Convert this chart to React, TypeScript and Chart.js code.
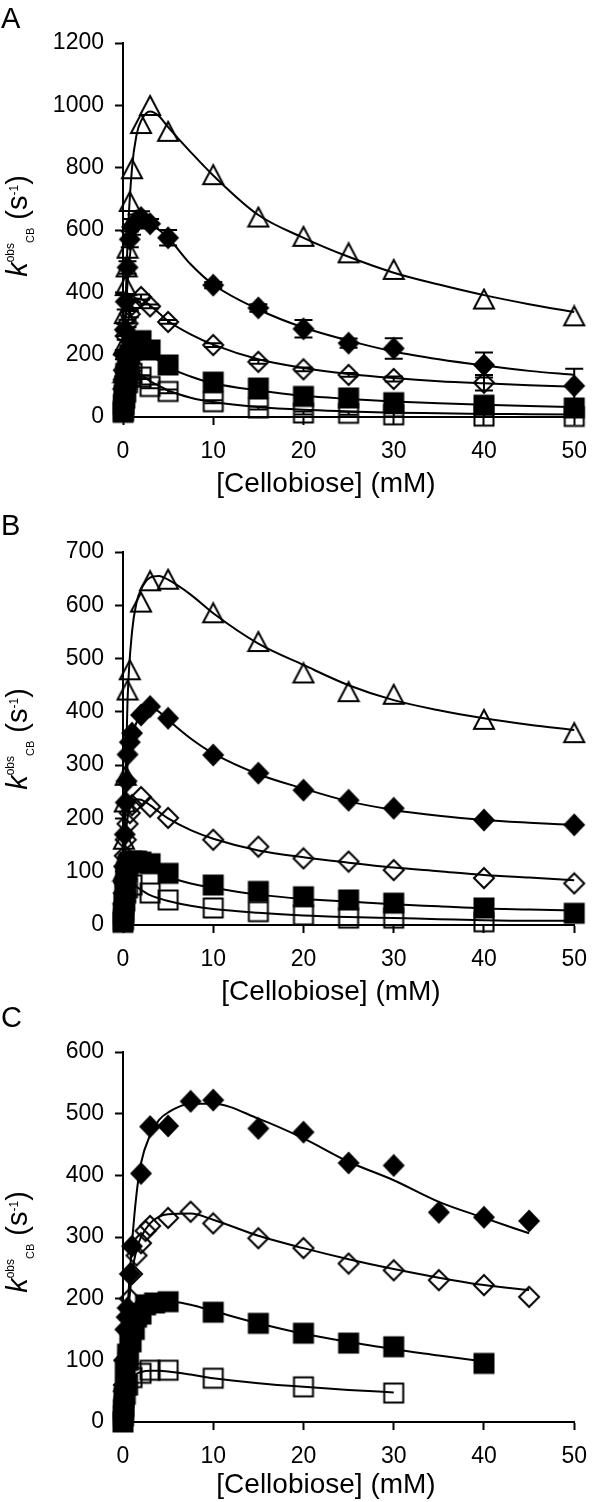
import React, { useEffect, useRef } from 'react';
import { Chart, registerables } from 'chart.js';
Chart.register(...registerables);

const FONT = '"Liberation Sans", Arial, sans-serif';
const X_TITLE = '[Cellobiose] (mM)';
const X_TICKS_MAX = 50;

// ---------- Panel A ----------
const aCurveX = [0, 0.25, 0.5, 1, 1.5, 2, 3, 4, 5, 7.5, 10, 15, 20, 25, 30, 35, 40, 45, 50];
const aTriangleX = [0.05, 0.1, 0.2, 0.3, 0.4, 0.5, 0.75, 1, 2, 3, 5, 10, 15, 20, 25, 30, 40, 50];
const aTriangleY = [140, 230, 330, 420, 480, 540, 690, 795, 940, 998, 915, 776, 640, 578, 525, 472, 377, 323];
const aTriangleFit = [0, 330, 560, 800, 905, 950, 980, 965, 930, 850, 775, 648, 575, 514, 463, 425, 391, 362, 337];
const aFilledDiamondX = [0.05, 0.1, 0.2, 0.3, 0.5, 0.75, 1, 1.5, 2, 3, 5, 10, 15, 20, 25, 30, 40, 50];
const aFilledDiamondY = [120, 200, 280, 370, 480, 570, 610, 630, 640, 620, 575, 423, 350, 283, 237, 220, 167, 100];
const aFilledDiamondErr = [10, 15, 20, 25, 20, 25, 25, 20, 20, 15, 25, 10, 12, 28, 15, 33, 40, 55];
const aFilledDiamondFit = [0, 280, 430, 570, 620, 635, 625, 600, 575, 490, 425, 345, 287, 245, 210, 185, 165, 148, 135];
const aOpenDiamondX = [0.05, 0.1, 0.2, 0.3, 0.5, 0.75, 1, 2, 3, 5, 10, 15, 20, 25, 30, 40];
const aOpenDiamondY = [90, 150, 200, 260, 300, 330, 360, 385, 355, 305, 231, 177, 153, 135, 122, 110];
const aOpenDiamondErr = [8, 10, 10, 12, 12, 10, 10, 8, 6, 6, 6, 6, 6, 6, 8, 25];
const aOpenDiamondFit = [0, 200, 290, 360, 380, 378, 358, 333, 308, 265, 232, 185, 157, 138, 125, 115, 108, 102, 97];
const aFilledSquareX = [0.02, 0.05, 0.1, 0.2, 0.3, 0.4, 0.5, 0.6, 0.75, 1, 1.5, 2, 3, 5, 10, 15, 20, 25, 30, 40, 50];
const aFilledSquareY = [15, 40, 70, 100, 140, 120, 170, 150, 200, 215, 230, 245, 215, 167, 112, 93, 66, 61, 46, 38, 29];
const aFilledSquareFit = [0, 120, 170, 215, 225, 220, 200, 180, 160, 130, 108, 85, 68, 58, 50, 44, 39, 35, 32];
const aOpenSquareX = [0.05, 0.1, 0.2, 0.3, 0.5, 0.75, 1, 2, 3, 5, 10, 15, 20, 25, 30, 40, 50];
const aOpenSquareY = [20, 40, 60, 80, 110, 130, 140, 128, 98, 82, 49, 29, 13, 12, 7, 3, 2];
const aOpenSquareErr = [15, 15, 12, 12, 10, 10, 8, 6, 6, 6, 5, 5, 5, 5, 5, 5, 5];
const aOpenSquareFit = [0, 90, 120, 145, 145, 135, 115, 100, 85, 62, 48, 32, 23, 18, 14, 12, 10, 9, 8];

// ---------- Panel B ----------
const bCurveX = [0, 0.25, 0.5, 1, 1.5, 2, 3, 4, 5, 7.5, 10, 15, 20, 25, 30, 35, 40, 45, 50];
const bTriangleX = [0.05, 0.1, 0.2, 0.3, 0.5, 0.75, 2, 3, 5, 10, 15, 20, 25, 30, 40, 50];
const bTriangleY = [100, 160, 230, 280, 440, 478, 605, 645, 648, 585, 531, 472, 437, 432, 385, 360];
const bTriangleFit = [0, 250, 420, 550, 605, 630, 652, 655, 648, 620, 585, 528, 488, 450, 422, 403, 388, 376, 366];
const bFilledDiamondX = [0.05, 0.1, 0.2, 0.3, 0.4, 0.5, 0.75, 1, 2, 3, 5, 10, 15, 20, 25, 30, 40, 50];
const bFilledDiamondY = [60, 110, 170, 230, 270, 320, 343, 360, 394, 410, 388, 319, 285, 253, 234, 219, 197, 188];
const bFilledDiamondFit = [0, 200, 300, 355, 380, 395, 408, 400, 385, 350, 322, 283, 256, 232, 216, 205, 197, 192, 188];
const bOpenDiamondX = [0.05, 0.1, 0.2, 0.3, 0.5, 0.75, 1, 2, 3, 5, 10, 15, 20, 25, 30, 40, 50];
const bOpenDiamondY = [40, 80, 130, 160, 190, 210, 225, 240, 222, 201, 160, 147, 125, 119, 103, 88, 78];
const bOpenDiamondFit = [0, 150, 200, 228, 236, 235, 225, 212, 200, 178, 162, 140, 127, 117, 108, 101, 94, 89, 84];
const bFilledSquareX = [0, 0.05, 0.1, 0.2, 0.3, 0.4, 0.5, 0.6, 0.75, 1, 1.5, 2, 3, 5, 10, 15, 20, 25, 30, 40, 50];
const bFilledSquareY = [5, 20, 40, 70, 90, 100, 110, 115, 118, 120, 120, 118, 115, 97, 75, 63, 53, 47, 41, 32, 22];
const bFilledSquareFit = [0, 90, 115, 123, 120, 115, 105, 97, 90, 78, 70, 57, 49, 44, 39, 35, 31, 29, 27];
const bOpenSquareX = [0.05, 0.1, 0.2, 0.3, 0.5, 1, 3, 5, 10, 15, 20, 25, 30, 40];
const bOpenSquareY = [10, 25, 45, 60, 70, 75, 60, 47, 32, 25, 19, 13, 13, 6];
const bOpenSquareFit = [0, 60, 75, 78, 72, 66, 56, 50, 45, 36, 30, 23, 18, 15, 13, 11, 9, 8, 8];

// ---------- Panel C ----------
const cCurveX = [0, 0.25, 0.5, 1, 1.5, 2, 3, 4, 5, 7.5, 10, 15, 20, 25, 30, 35, 40, 45];
const cFilledDiamondX = [0.05, 0.1, 0.25, 0.4, 0.5, 0.75, 1, 2, 3, 5, 7.5, 10, 15, 20, 25, 30, 35, 40, 45];
const cFilledDiamondY = [50, 100, 150, 170, 185, 240, 285, 403, 479, 480, 520, 522, 476, 470, 420, 416, 340, 332, 326];
const cFilledDiamondFit = [0, 100, 180, 290, 370, 420, 465, 490, 502, 516, 516, 492, 460, 422, 392, 357, 331, 306];
const cOpenDiamondX = [0.1, 0.25, 0.5, 0.75, 1, 1.5, 2, 2.5, 3, 5, 7.5, 10, 15, 20, 25, 30, 35, 40, 45];
const cOpenDiamondY = [60, 100, 150, 200, 240, 270, 290, 310, 318, 331, 341, 322, 298, 282, 257, 246, 230, 222, 203];
const cOpenDiamondFit = [0, 90, 160, 240, 280, 300, 322, 333, 337, 338, 328, 302, 282, 264, 248, 234, 222, 214];
const cSquareCurveX = [0, 0.25, 0.5, 1, 1.5, 2, 3, 4, 5, 7.5, 10, 15, 20, 25, 30, 35, 40];
const cFilledSquareX = [0, 0.05, 0.1, 0.25, 0.4, 0.5, 0.6, 0.75, 0.9, 1, 1.25, 1.5, 2, 2.5, 3.5, 5, 10, 15, 20, 25, 30, 40];
const cFilledSquareY = [0, 20, 40, 80, 60, 110, 100, 140, 130, 160, 150, 170, 175, 190, 193, 195, 178, 160, 144, 128, 122, 95];
const cFilledSquareFit = [0, 70, 120, 160, 178, 185, 192, 195, 196, 190, 180, 160, 143, 130, 118, 108, 98];
const cOpenSquareCurveX = [0, 0.25, 0.5, 1, 1.5, 2, 3, 4, 5, 7.5, 10, 15, 20, 25, 30];
const cOpenSquareX = [0.05, 0.1, 0.25, 0.5, 1, 2, 3, 5, 10, 20, 30];
const cOpenSquareY = [10, 25, 45, 60, 72, 79, 84, 84, 71, 57, 47];
const cOpenSquareFit = [0, 40, 58, 72, 78, 81, 83, 83, 82, 77, 71, 63, 57, 52, 48];

type MarkerKind = 'openTriangle' | 'filledDiamond' | 'openDiamond' | 'filledSquare' | 'openSquare';
type Series = { kind: MarkerKind; x: number[]; y: number[]; err?: number[] };
type Curve = { x: number[]; y: number[] };
type PanelCfg = {
  letter: string; top: number; height: number;
  area: { top: number; bottom: number; left: number; right: number };
  yMax: number; yStep: number;
  letterBase: number; xTitleX: number; xTitleBase: number; yTitleY: number; yTitleBase: number;
  series: Series[]; curves: Curve[];
};

const PANELS: PanelCfg[] = [
  {
    letter: 'A', top: 0, height: 500, area: { top: 43, bottom: 417, left: 123, right: 575 },
    yMax: 1200, yStep: 200, letterBase: 28, xTitleX: 326, xTitleBase: 492, yTitleY: 226, yTitleBase: 27,
    series: [
      { kind: 'openTriangle', x: aTriangleX, y: aTriangleY },
      { kind: 'filledDiamond', x: aFilledDiamondX, y: aFilledDiamondY, err: aFilledDiamondErr },
      { kind: 'openDiamond', x: aOpenDiamondX, y: aOpenDiamondY, err: aOpenDiamondErr },
      { kind: 'filledSquare', x: aFilledSquareX, y: aFilledSquareY },
      { kind: 'openSquare', x: aOpenSquareX, y: aOpenSquareY, err: aOpenSquareErr },
    ],
    curves: [
      { x: aCurveX, y: aTriangleFit }, { x: aCurveX, y: aFilledDiamondFit }, { x: aCurveX, y: aOpenDiamondFit },
      { x: aCurveX, y: aFilledSquareFit }, { x: aCurveX, y: aOpenSquareFit },
    ],
  },
  {
    letter: 'B', top: 500, height: 510, area: { top: 52, bottom: 425, left: 123, right: 588 },
    yMax: 700, yStep: 100, letterBase: 35, xTitleX: 331, xTitleBase: 500, yTitleY: 239, yTitleBase: 27,
    series: [
      { kind: 'openTriangle', x: bTriangleX, y: bTriangleY },
      { kind: 'filledDiamond', x: bFilledDiamondX, y: bFilledDiamondY },
      { kind: 'openDiamond', x: bOpenDiamondX, y: bOpenDiamondY },
      { kind: 'filledSquare', x: bFilledSquareX, y: bFilledSquareY },
      { kind: 'openSquare', x: bOpenSquareX, y: bOpenSquareY },
    ],
    curves: [
      { x: bCurveX, y: bTriangleFit }, { x: bCurveX, y: bFilledDiamondFit }, { x: bCurveX, y: bOpenDiamondFit },
      { x: bCurveX, y: bFilledSquareFit }, { x: bCurveX, y: bOpenSquareFit },
    ],
  },
  {
    letter: 'C', top: 1000, height: 502, area: { top: 52, bottom: 422, left: 123, right: 587 },
    yMax: 600, yStep: 100, letterBase: 27, xTitleX: 326, xTitleBase: 493, yTitleY: 242, yTitleBase: 27,
    series: [
      { kind: 'filledDiamond', x: cFilledDiamondX, y: cFilledDiamondY },
      { kind: 'openDiamond', x: cOpenDiamondX, y: cOpenDiamondY },
      { kind: 'filledSquare', x: cFilledSquareX, y: cFilledSquareY },
      { kind: 'openSquare', x: cOpenSquareX, y: cOpenSquareY },
    ],
    curves: [
      { x: cCurveX, y: cFilledDiamondFit }, { x: cCurveX, y: cOpenDiamondFit },
      { x: cSquareCurveX, y: cFilledSquareFit }, { x: cOpenSquareCurveX, y: cOpenSquareFit },
    ],
  },
];

function makeMarker(kind: MarkerKind): HTMLCanvasElement {
  const c = document.createElement('canvas');
  c.width = 24; c.height = 24;
  const g = c.getContext('2d')!;
  const m = 12;
  g.lineWidth = 2; g.strokeStyle = '#000'; g.fillStyle = '#000'; g.lineJoin = 'miter';
  g.beginPath();
  if (kind === 'openTriangle') {
    g.moveTo(m, 2); g.lineTo(m + 10, 21); g.lineTo(m - 10, 21); g.closePath(); g.stroke();
  } else if (kind === 'filledDiamond') {
    g.moveTo(m, 0.5); g.lineTo(m + 11, m); g.lineTo(m, 23.5); g.lineTo(m - 11, m); g.closePath(); g.fill();
  } else if (kind === 'openDiamond') {
    g.moveTo(m, 2); g.lineTo(m + 10, m); g.lineTo(m, 22); g.lineTo(m - 10, m); g.closePath(); g.stroke();
  } else if (kind === 'filledSquare') {
    g.fillRect(m - 10.5, m - 10.5, 21, 21);
  } else {
    g.strokeRect(m - 9.5, m - 9.5, 19, 19);
  }
  return c;
}

const errorBarPlugin = {
  id: 'errbars',
  afterDatasetsDraw(chart: any) {
    const ctx = chart.ctx;
    const xs = chart.scales.x, ys = chart.scales.y;
    chart.data.datasets.forEach((ds: any) => {
      if (!ds.errors) return;
      ctx.save();
      ctx.strokeStyle = '#000'; ctx.lineWidth = 2;
      ds.data.forEach((p: any, i: number) => {
        const e = ds.errors[i];
        if (!e) return;
        const px = xs.getPixelForValue(p.x);
        const t = ys.getPixelForValue(p.y + e);
        const b = ys.getPixelForValue(Math.max(0, p.y - e));
        ctx.beginPath();
        ctx.moveTo(px, t); ctx.lineTo(px, b);
        ctx.moveTo(px - 9, t); ctx.lineTo(px + 9, t);
        ctx.moveTo(px - 9, b); ctx.lineTo(px + 9, b);
        ctx.stroke();
      });
      ctx.restore();
    });
  },
};

function drawYTitle(ctx: CanvasRenderingContext2D, bx: number, cy: number) {
  const segs = [
    { t: 'k', f: `italic 29px ${FONT}`, dy: 0 },
    { t: 'obs', f: `12px ${FONT}`, dy: -13 },
    { t: 'CB', f: `11px ${FONT}`, dy: 7 },
    { t: ' (s', f: `29px ${FONT}`, dy: 0 },
    { t: '-1', f: `12px ${FONT}`, dy: -9 },
    { t: ')', f: `29px ${FONT}`, dy: 0 },
  ];
  let total = 0;
  const widths = segs.map((s) => { ctx.font = s.f; const w = ctx.measureText(s.t).width; total += w; return w; });
  ctx.save();
  ctx.translate(bx, cy);
  ctx.rotate(-Math.PI / 2);
  ctx.textAlign = 'left';
  ctx.textBaseline = 'alphabetic';
  let x = -total / 2;
  segs.forEach((s, i) => { ctx.font = s.f; ctx.fillText(s.t, x, s.dy); x += widths[i]; });
  ctx.restore();
}

function textPlugin(p: PanelCfg) {
  return {
    id: 'texts' + p.letter,
    afterDraw(chart: any) {
      const ctx: CanvasRenderingContext2D = chart.ctx;
      ctx.save();
      ctx.fillStyle = '#000';
      ctx.textBaseline = 'alphabetic';
      ctx.textAlign = 'left';
      ctx.font = `29px ${FONT}`;
      ctx.fillText(p.letter, 1, p.letterBase);
      ctx.font = `28px ${FONT}`;
      ctx.textAlign = 'center';
      ctx.fillText(X_TITLE, p.xTitleX, p.xTitleBase);
      drawYTitle(ctx, p.yTitleBase, p.yTitleY);
      ctx.restore();
    },
  };
}

function makeChart(canvas: HTMLCanvasElement, p: PanelCfg) {
  const markerSets = p.series.map((s) => ({
    data: s.x.map((x, i) => ({ x, y: s.y[i] })),
    showLine: false,
    pointStyle: makeMarker(s.kind),
    pointRadius: 10,
    pointHoverRadius: 10,
    borderWidth: 0,
    clip: false,
    errors: s.err,
  }));
  const curveSets = p.curves.map((c) => ({
    data: c.x.map((x, i) => ({ x, y: c.y[i] })),
    showLine: true,
    pointRadius: 0,
    pointHoverRadius: 0,
    borderColor: '#000',
    borderWidth: 2,
    cubicInterpolationMode: 'monotone',
    fill: false,
    clip: false,
  }));
  const W = 600;
  const tickFont = { family: FONT, size: 23 };
  return new Chart(canvas, {
    type: 'scatter',
    data: { datasets: [...markerSets, ...curveSets] as any },
    options: {
      responsive: false,
      animation: false,
      devicePixelRatio: 1,
      events: [],
      layout: { padding: { top: p.area.top, right: W - p.area.right, left: 0, bottom: 0 }, autoPadding: false },
      plugins: { legend: { display: false }, tooltip: { enabled: false } },
      scales: {
        x: {
          type: 'linear', min: 0, max: X_TICKS_MAX,
          ticks: { stepSize: 10, color: '#000', font: tickFont, padding: 13, maxRotation: 0, callback: (v: any) => String(v) },
          grid: { display: true, drawOnChartArea: false, drawTicks: true, tickLength: 8, tickWidth: 2, tickColor: '#000' },
          border: { display: true, color: '#000', width: 2 },
          afterFit: (s: any) => { s.height = p.height - p.area.bottom; },
        },
        y: {
          type: 'linear', min: 0, max: p.yMax,
          ticks: { stepSize: p.yStep, color: '#000', font: tickFont, padding: 11, callback: (v: any) => String(v) },
          grid: { display: true, drawOnChartArea: false, drawTicks: true, tickLength: 8, tickWidth: 2, tickColor: '#000' },
          border: { display: true, color: '#000', width: 2 },
          afterFit: (s: any) => { s.width = p.area.left; },
        },
      },
    } as any,
    plugins: [errorBarPlugin, textPlugin(p)],
  });
}

export default function App() {
  const refs = useRef<(HTMLCanvasElement | null)[]>([]);
  useEffect(() => {
    const charts = PANELS.map((p, i) => makeChart(refs.current[i]!, p));
    return () => charts.forEach((c) => c.destroy());
  }, []);
  return (
    <div style={{ position: 'absolute', left: 0, top: 0, width: 600, height: 1502, background: '#fff' }}>
      {PANELS.map((p, i) => (
        <canvas
          key={p.letter}
          ref={(el) => { refs.current[i] = el; }}
          width={600}
          height={p.height}
          style={{ position: 'absolute', left: 0, top: p.top, width: 600, height: p.height, display: 'block' }}
        />
      ))}
    </div>
  );
}
